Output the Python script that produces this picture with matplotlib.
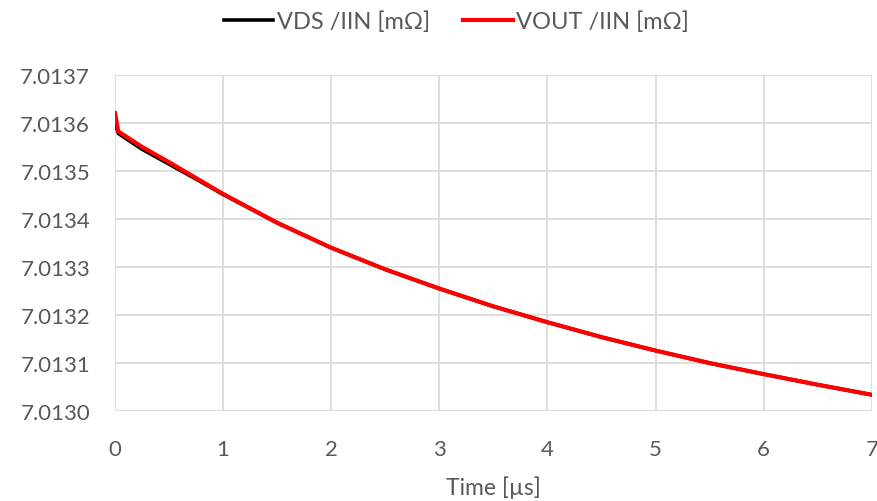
import matplotlib.pyplot as plt

plt.rcParams['font.family'] = ['Lato', 'DejaVu Sans']

# time axis in microseconds
t_vout = [0, 0.03, 0.25, 0.5, 0.75, 1, 1.5, 2, 2.5, 3, 3.5, 4, 4.5, 5, 5.5, 6, 6.5, 7]
r_vout = [7.013620, 7.013582, 7.013550, 7.013518, 7.013485, 7.013452, 7.013392,
          7.013340, 7.013295, 7.013255, 7.013218, 7.013185, 7.013154, 7.013126,
          7.013100, 7.013077, 7.013055, 7.013034]

t_vds = [0, 0.03, 0.25, 0.5, 0.75, 1, 1.5, 2, 2.5, 3, 3.5, 4, 4.5, 5, 5.5, 6, 6.5, 7]
r_vds = [7.013600, 7.013578, 7.013545, 7.013514, 7.013483, 7.013451, 7.013392,
         7.013340, 7.013295, 7.013255, 7.013218, 7.013185, 7.013154, 7.013126,
         7.013100, 7.013077, 7.013055, 7.013034]

x_ticks = [0, 1, 2, 3, 4, 5, 6, 7]
y_ticks = [7.0130, 7.0131, 7.0132, 7.0133, 7.0134, 7.0135, 7.0136, 7.0137]

text_color = '#595959'
grid_color = '#d9d9d9'

fig = plt.figure(figsize=(8.78, 5.02), dpi=100)
ax = fig.add_axes([0.131, 0.179, 0.862, 0.670])

ax.plot(t_vds, r_vds, color='black', lw=2.6, label='VDS /IIN [mΩ]')
ax.plot(t_vout, r_vout, color='#ff0000', lw=3.0, label='VOUT /IIN [mΩ]')

ax.set_xlim(0, 7)
ax.set_ylim(7.0130, 7.0137)
ax.set_xticks(x_ticks)
ax.set_yticks(y_ticks)
ax.set_yticklabels([f'{v:.4f}' for v in y_ticks])
ax.tick_params(length=0, labelsize=16, colors=text_color)
ax.tick_params(axis='y', pad=18)
ax.tick_params(axis='x', pad=20)
ax.grid(True, color=grid_color, lw=1.2)
ax.set_axisbelow(True)
for s in ax.spines.values():
    s.set_visible(False)

ax.set_xlabel('Time [µs]', fontsize=16.5, color=text_color, labelpad=12)

leg = fig.legend(loc='upper center', bbox_to_anchor=(0.52, 1.02), ncol=2,
                 frameon=False, fontsize=17, handlelength=2.1,
                 handletextpad=0.15, columnspacing=1.4)
for txt in leg.get_texts():
    txt.set_color(text_color)

fig.savefig('out.png', dpi=100)
